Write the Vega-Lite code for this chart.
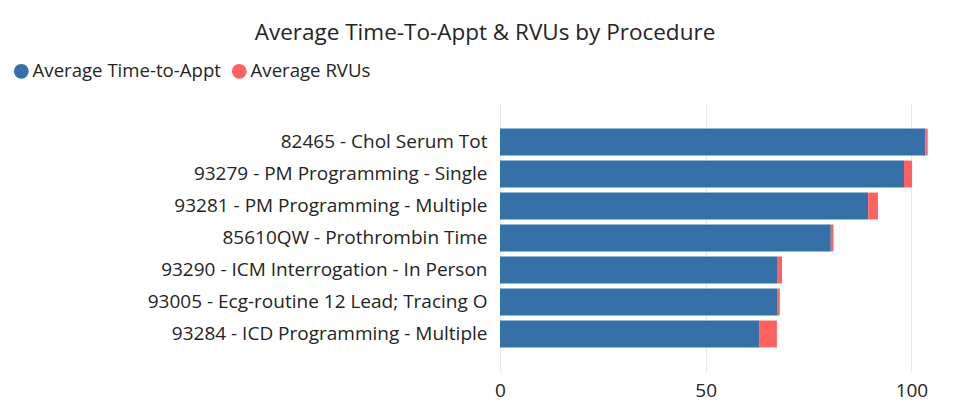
{
  "$schema": "https://vega.github.io/schema/vega-lite/v6.json",
  "width": 432,
  "height": 270,
  "autosize": {"type": "none"},
  "padding": {"left": 500, "top": 103, "right": 28, "bottom": 41},
  "background": "white",
  "title": {
    "text": "Average Time-To-Appt & RVUs by Procedure",
    "anchor": "middle",
    "frame": "group",
    "dx": -231,
    "offset": 18,
    "font": "Open Sans",
    "fontSize": 22.5,
    "fontWeight": "normal",
    "color": "#252423"
  },
  "data": {
    "values": [
      {"procedure": "82465 - Chol Serum Tot", "measure": "Average Time-to-Appt", "k": 1, "value": 103.4},
      {"procedure": "82465 - Chol Serum Tot", "measure": "Average RVUs", "k": 2, "value": 0.55},
      {"procedure": "93279 - PM Programming - Single", "measure": "Average Time-to-Appt", "k": 1, "value": 98.2},
      {"procedure": "93279 - PM Programming - Single", "measure": "Average RVUs", "k": 2, "value": 1.95},
      {"procedure": "93281 - PM Programming - Multiple", "measure": "Average Time-to-Appt", "k": 1, "value": 89.5},
      {"procedure": "93281 - PM Programming - Multiple", "measure": "Average RVUs", "k": 2, "value": 2.35},
      {"procedure": "85610QW - Prothrombin Time", "measure": "Average Time-to-Appt", "k": 1, "value": 80.4},
      {"procedure": "85610QW - Prothrombin Time", "measure": "Average RVUs", "k": 2, "value": 0.65},
      {"procedure": "93290 - ICM Interrogation - In Person", "measure": "Average Time-to-Appt", "k": 1, "value": 67.5},
      {"procedure": "93290 - ICM Interrogation - In Person", "measure": "Average RVUs", "k": 2, "value": 1.05},
      {"procedure": "93005 - Ecg-routine 12 Lead; Tracing O", "measure": "Average Time-to-Appt", "k": 1, "value": 67.5},
      {"procedure": "93005 - Ecg-routine 12 Lead; Tracing O", "measure": "Average RVUs", "k": 2, "value": 0.5},
      {"procedure": "93284 - ICD Programming - Multiple", "measure": "Average Time-to-Appt", "k": 1, "value": 63.1},
      {"procedure": "93284 - ICD Programming - Multiple", "measure": "Average RVUs", "k": 2, "value": 4.2}
    ]
  },
  "mark": {"type": "bar"},
  "encoding": {
    "y": {
      "field": "procedure",
      "type": "nominal",
      "sort": null,
      "scale": {"paddingInner": 0.16, "paddingOuter": 0.8},
      "axis": {
        "title": null,
        "ticks": false,
        "domain": false,
        "labelFont": "Open Sans",
        "labelFontSize": 19,
        "labelColor": "#252423",
        "labelPadding": 13,
        "labelLimit": 450
      }
    },
    "x": {
      "field": "value",
      "type": "quantitative",
      "stack": "zero",
      "scale": {"domain": [0, 105], "nice": false},
      "axis": {
        "title": null,
        "values": [0, 50, 100],
        "ticks": false,
        "domain": false,
        "grid": true,
        "gridColor": "#E8E8E8",
        "labelFont": "Open Sans",
        "labelFontSize": 19,
        "labelColor": "#252423",
        "labelPadding": 8,
        "labelFlush": false
      }
    },
    "color": {
      "field": "measure",
      "type": "nominal",
      "scale": {"domain": ["Average Time-to-Appt", "Average RVUs"], "range": ["#3570A8", "#FD625E"]},
      "legend": {
        "title": null,
        "orient": "none",
        "legendX": -488,
        "legendY": -41,
        "direction": "horizontal",
        "symbolType": "circle",
        "symbolSize": 220,
        "symbolOpacity": 1,
        "labelFont": "Open Sans",
        "labelFontSize": 18.6,
        "labelColor": "#252423",
        "labelOffset": 2,
        "labelLimit": 300,
        "columnPadding": 9
      }
    },
    "order": {"field": "k", "type": "quantitative"}
  },
  "config": {"view": {"stroke": null}}
}
